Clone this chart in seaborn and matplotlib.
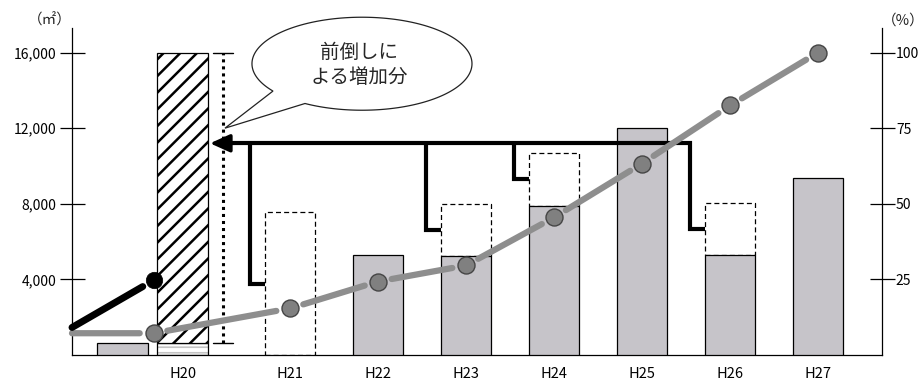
import numpy as np
import matplotlib
matplotlib.use("Agg")
import matplotlib.pyplot as plt
import seaborn as sns

sns.set_theme(style="ticks")
plt.rcParams['font.family'] = ['Noto Sans CJK JP', 'DejaVu Sans']
plt.rcParams['hatch.linewidth'] = 1.8

# ---- data ----
years = ["", "H20", "H21", "H22", "H23", "H24", "H25", "H26", "H27"]
built = [650, 650, 0, 5300, 5250, 7900, 12000, 5300, 9350]    # m2, grey bars
moved = [0, 0, 7550, 0, 2750, 2800, 0, 2750, 0]                # m2 brought forward to H20 (dashed boxes)
h20_top = 16000                                                # H20 incl. the brought-forward part

rate_years = ["H20", "H21", "H22", "H23", "H24", "H25", "H26", "H27"]
rate = [7.2, 15.4, 24.3, 29.6, 45.5, 63.3, 82.5, 100]          # %, grey line
rate_before = 7.2                                              # value entering from the left edge
plan_h20 = 24.7                                                # %, black line
plan_before = 9.1

left_ticks = [4000, 8000, 12000, 16000]
right_ticks = [25, 50, 75, 100]
callout = "前倒しに\nよる増加分"

# ---- layout ----
xpos = [0.10, 0.78, 2, 3, 4, 5, 6, 7, 8]
line_x = [0.45, 2, 3, 4, 5, 6, 7, 8]
bar_w = 0.575
xmin, xmax = -0.477, 8.727
ymax = 17300
gray = "#c6c4c9"

fig = plt.figure(figsize=(9.23, 3.82), dpi=100)
ax = fig.add_axes([72 / 923, 27 / 382, 810 / 923, 327 / 382])
ax.set_xlim(xmin, xmax)
ax.set_ylim(0, ymax)

# bars
h20_i = years.index("H20")
for x, b, m, lab in zip(xpos, built, moved, years):
    if m > 0:
        ax.bar(x, m, bottom=b, width=bar_w, fill=False, edgecolor='black', lw=0.9,
               linestyle=(0, (4, 2.5)), zorder=2)
    if lab == "H20":
        base = ax.bar(x, b, width=bar_w, color='white', edgecolor='#c4c4c4', hatch='---', lw=0, zorder=2)
        for p in base:
            if hasattr(p, "set_hatch_linewidth"):
                p.set_hatch_linewidth(1.2)
        ax.bar(x, b, width=bar_w, fill=False, edgecolor='black', lw=0.9, zorder=2)
        ax.bar(x, h20_top - b, bottom=b, width=bar_w, color='white', edgecolor='black',
               hatch='//', lw=0.9, zorder=2)
    elif b > 0:
        ax.bar(x, b, width=bar_w, color=gray, edgecolor='black', lw=0.9, zorder=3)

# bracket with arrow back to H20
y_br = 11200
h20_right = xpos[h20_i] + bar_w / 2
off = 0.17
drops = [(x - bar_w / 2, b + m / 2) for x, b, m in zip(xpos, built, moved) if m > 0]
for k, (left, mid) in enumerate(drops):
    xd = left - off
    if k == len(drops) - 1:
        ax.plot([h20_right + 0.1, xd, xd, left], [y_br, y_br, mid, mid], color='black', lw=3,
                solid_joinstyle='miter', solid_capstyle='butt', zorder=4)
    else:
        ax.plot([xd, xd, left], [y_br, mid, mid], color='black', lw=3,
                solid_joinstyle='miter', solid_capstyle='butt', zorder=4)
ax.annotate("", xy=(h20_right, y_br), xytext=(h20_right + 0.3, y_br),
            arrowprops=dict(arrowstyle="-|>,head_length=1.0,head_width=0.45", color='black',
                            lw=2.5, shrinkA=0, shrinkB=1.5), zorder=4)

# dotted range line next to H20
xd = 1.24
ax.plot([xd, xd], [built[h20_i], h20_top], color='black', lw=2.2, linestyle=(0, (1, 1.3)),
        dash_capstyle='butt', zorder=4)
for yy in (built[h20_i], h20_top):
    ax.plot([xd - 0.115, xd + 0.115], [yy, yy], color='black', lw=1.0, zorder=4)

# speech bubble
cx, cy, ea, eb = 2.818, 15410, 1.25, 2460
t = np.linspace(np.radians(238.8), np.radians(216) + 2 * np.pi, 300)
bx = np.r_[cx + ea * np.cos(t), 1.261]
by = np.r_[cy + eb * np.sin(t), 12000]
ax.fill(bx, by, facecolor='white', edgecolor='#222222', lw=0.9, clip_on=False, zorder=5)
ax.text(2.784, 15340, callout, ha='center', va='center', fontsize=14, linespacing=1.2, zorder=6)

# percentage axis with lines
ax2 = ax.twinx()
ax2.set_ylim(0, ymax / 160)


def gap_line(axis, xs, ys, color, lw, gap):
    for i in range(len(xs) - 1):
        axis.annotate("", xy=(xs[i + 1], ys[i + 1]), xytext=(xs[i], ys[i]),
                      arrowprops=dict(arrowstyle='-', color=color, lw=lw,
                                      shrinkA=0 if i == 0 else gap, shrinkB=gap))


gap_line(ax2, [xmin] + line_x, [rate_before] + rate, '#8e8e8e', 4.5, 10)
gap_line(ax2, [xmin, line_x[0]], [plan_before, plan_h20], 'black', 5, 9)
sns.scatterplot(x=line_x, y=rate, ax=ax2, s=150, color='#808080', edgecolor='#454545',
                linewidth=1, zorder=6, legend=False)
sns.scatterplot(x=[line_x[0]], y=[plan_h20], ax=ax2, s=140, color='black', edgecolor='black',
                linewidth=0.5, zorder=6, legend=False)

# axes styling
for s in ['top', 'right']:
    ax.spines[s].set_visible(False)
for s in ['top', 'left', 'bottom']:
    ax2.spines[s].set_visible(False)
for s in ['left', 'bottom']:
    ax.spines[s].set_color('black')
    ax.spines[s].set_linewidth(0.9)
ax2.spines['right'].set_color('black')
ax2.spines['right'].set_linewidth(0.9)

ax.set_yticks(left_ticks)
ax.set_yticklabels([f"{v:,}" for v in left_ticks])
ax.tick_params(axis='y', left=True, direction='inout', length=18, width=0.9, pad=2,
               labelsize=10, colors='black')
ax2.set_yticks(right_ticks)
ax2.set_yticklabels([str(v) for v in right_ticks])
ax2.tick_params(axis='y', right=True, direction='inout', length=18, width=0.9, pad=1,
                labelsize=10, colors='black')
ax.set_xticks(xpos[1:])
ax.set_xticklabels(years[1:])
ax.tick_params(axis='x', length=0, pad=9, labelsize=10.5, colors='black')
ax.set_xlabel("")
ax2.set_ylabel("")

fig.text(50 / 923, 1 - 20 / 382, "（㎡）", ha='center', va='center', fontsize=10.5)
fig.text(903 / 923, 1 - 21 / 382, "（%）", ha='center', va='center', fontsize=10.5)

fig.savefig("out.png", dpi=100)
